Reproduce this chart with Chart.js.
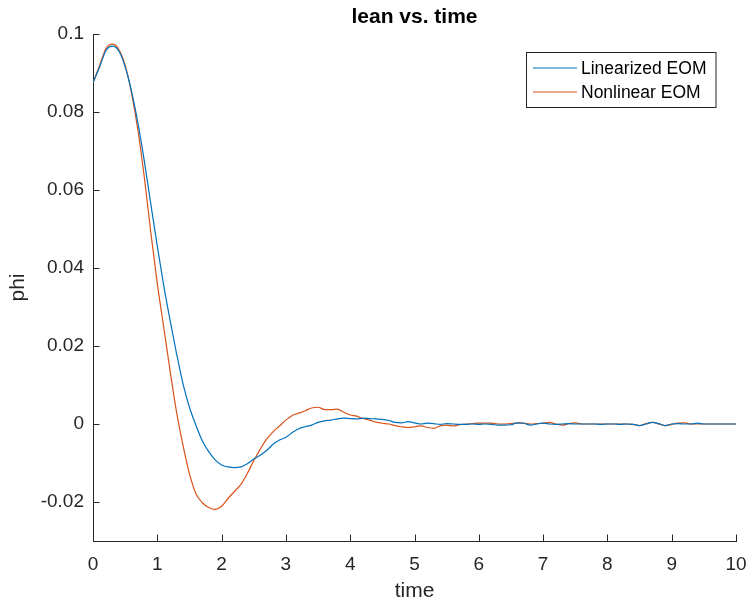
<!DOCTYPE html>
<html lang="en">
<head>
<meta charset="UTF-8">
<title>lean vs. time</title>
<script src="https://cdn.jsdelivr.net/npm/chart.js@4.4.0/dist/chart.umd.min.js"></script>
<style>
    body { margin: 0; background: #fff; }
    canvas#leanChart { display: block; }
</style>
</head>
<body>
<canvas id="leanChart" width="748" height="604"></canvas>
<script>
    const time = [
        0.0, 0.1, 0.2, 0.3, 0.4, 0.5, 0.6, 0.7, 0.8, 0.9,
        1.0, 1.1, 1.2, 1.3, 1.4, 1.5, 1.6, 1.7, 1.8, 1.9,
        2.0, 2.1, 2.2, 2.3, 2.4, 2.5, 2.6, 2.7, 2.8, 2.9,
        3.0, 3.1, 3.2, 3.3, 3.4, 3.5, 3.6, 3.7, 3.8, 3.9,
        4.0, 4.1, 4.2, 4.3, 4.4, 4.5, 4.6, 4.7, 4.8, 4.9,
        5.0, 5.1, 5.2, 5.3, 5.4, 5.5, 5.6, 5.7, 5.8, 5.9,
        6.0, 6.1, 6.2, 6.3, 6.4, 6.5, 6.6, 6.7, 6.8, 6.9,
        7.0, 7.1, 7.2, 7.3, 7.4, 7.5, 7.6, 7.7, 7.8, 7.9,
        8.0, 8.1, 8.2, 8.3, 8.4, 8.5, 8.6, 8.7, 8.8, 8.9,
        9.0, 9.1, 9.2, 9.3, 9.4, 9.5, 9.6, 9.7, 9.8, 9.9,
        10.0
    ];
    const linearPhi = [
        0.0875, 0.0914, 0.0957, 0.0969, 0.0957, 0.0916, 0.0852, 0.0770, 0.0672, 0.0563,
        0.0456, 0.0355, 0.0265, 0.0180, 0.0103, 0.0043, -0.0003, -0.0043, -0.0071, -0.0092,
        -0.0105, -0.0110, -0.0112, -0.0110, -0.0102, -0.0090, -0.0080, -0.0068, -0.0052, -0.0041,
        -0.0034, -0.0022, -0.0012, -0.0007, -0.0003, 0.0004, 0.0008, 0.0010, 0.0013, 0.0015,
        0.0014, 0.0013, 0.0015, 0.0014, 0.0013, 0.0012, 0.0009, 0.0004, 0.0003, 0.0006,
        0.0003, 0.0000, 0.0002, 0.0001, -0.0001, 0.0001, 0.0000, -0.0001, -0.0001, 0.0000,
        -0.0001, 0.0000, -0.0001, -0.0003, -0.0003, -0.0002, 0.0003, 0.0002, -0.0003, 0.0000,
        0.0002, 0.0000, -0.0001, 0.0000, 0.0001, 0.0000, 0.0000, 0.0000, 0.0000, -0.0001,
        0.0000, 0.0000, -0.0001, 0.0000, -0.0001, -0.0004, 0.0000, 0.0004, 0.0001, -0.0004,
        0.0000, 0.0001, 0.0000, 0.0000, 0.0002, 0.0000, 0.0000, 0.0000, 0.0000, 0.0000,
        0.0000
    ];
    const nonlinearPhi = [
        0.0875, 0.0918, 0.0962, 0.0974, 0.0961, 0.0920, 0.0848, 0.0752, 0.0630, 0.0490,
        0.0360, 0.0248, 0.0135, 0.0030, -0.0055, -0.0128, -0.0178, -0.0202, -0.0214, -0.0219,
        -0.0211, -0.0191, -0.0173, -0.0155, -0.0127, -0.0094, -0.0065, -0.0039, -0.0020, -0.0005,
        0.0010, 0.0022, 0.0028, 0.0034, 0.0041, 0.0043, 0.0037, 0.0037, 0.0038, 0.0030,
        0.0023, 0.0020, 0.0014, 0.0010, 0.0005, 0.0002, 0.0000, -0.0004, -0.0007, -0.0009,
        -0.0007, -0.0005, -0.0009, -0.0011, -0.0005, -0.0003, -0.0005, -0.0002, 0.0000, 0.0001,
        0.0002, 0.0002, 0.0002, 0.0000, 0.0000, 0.0001, 0.0003, 0.0002, 0.0000, 0.0001,
        0.0002, 0.0004, 0.0000, -0.0003, 0.0001, 0.0003, 0.0000, 0.0000, 0.0000, 0.0000,
        0.0000, 0.0000, 0.0000, 0.0000, -0.0001, -0.0004, 0.0001, 0.0004, 0.0000, -0.0004,
        -0.0001, 0.0002, 0.0003, 0.0000, 0.0000, 0.0000, 0.0000, 0.0000, 0.0000, 0.0000,
        0.0000
    ];
    const seriesNames = ['Linearized EOM', 'Nonlinear EOM'];
    const seriesColors = ['#0072BD', '#D95319'];
    const xTicks = [0, 1, 2, 3, 4, 5, 6, 7, 8, 9, 10];
    const yTicks = [-0.02, 0, 0.02, 0.04, 0.06, 0.08, 0.1];

    const FONT = '"Liberation Sans", Arial, Helvetica, sans-serif';
    const AXIS = '#262626';

    function toPoints(ys) {
        return time.map((t, i) => ({ x: t, y: ys[i] }));
    }

    // matlab style: ticks pointing inward + boxed legend in the top right
    const matlabLook = {
        id: 'matlabLook',
        afterDatasetsDraw(chart) {
            const ctx = chart.ctx;
            const area = chart.chartArea;
            const xs = chart.scales.x;
            const ys = chart.scales.y;
            ctx.save();
            ctx.strokeStyle = AXIS;
            ctx.lineWidth = 1;
            ctx.beginPath();
            xTicks.forEach(v => {
                const px = Math.round(xs.getPixelForValue(v)) + 0.5;
                ctx.moveTo(px, area.bottom);
                ctx.lineTo(px, area.bottom - 6.5);
            });
            yTicks.forEach(v => {
                const py = Math.round(ys.getPixelForValue(v)) + 0.5;
                ctx.moveTo(area.left, py);
                ctx.lineTo(area.left + 6.5, py);
            });
            ctx.stroke();

            // legend
            const bx = 526.5, by = 52.5, bw = 189.5, bh = 55;
            ctx.fillStyle = '#fff';
            ctx.fillRect(bx, by, bw, bh);
            ctx.strokeStyle = AXIS;
            ctx.strokeRect(bx, by, bw, bh);
            ctx.font = '17.5px ' + FONT;
            ctx.textBaseline = 'middle';
            ctx.textAlign = 'left';
            chart.data.datasets.forEach((ds, i) => {
                const ry = 68 + i * 24;
                ctx.strokeStyle = ds.borderColor;
                ctx.lineWidth = 1.2;
                ctx.beginPath();
                ctx.moveTo(533, ry);
                ctx.lineTo(577, ry);
                ctx.stroke();
                ctx.fillStyle = '#000';
                ctx.fillText(ds.label, 581, ry + 1);
            });
            ctx.restore();
        }
    };

    const ctx = document.getElementById('leanChart').getContext('2d');
    const leanChart = new Chart(ctx, {
        type: 'line',
        data: {
            datasets: [
                {
                    label: seriesNames[0],
                    data: toPoints(linearPhi),
                    borderColor: seriesColors[0],
                    borderWidth: 1.2,
                    pointRadius: 0,
                    cubicInterpolationMode: 'monotone',
                    fill: false
                },
                {
                    label: seriesNames[1],
                    data: toPoints(nonlinearPhi),
                    borderColor: seriesColors[1],
                    borderWidth: 1.2,
                    pointRadius: 0,
                    cubicInterpolationMode: 'monotone',
                    fill: false
                }
            ]
        },
        plugins: [matlabLook],
        options: {
            responsive: false,
            animation: false,
            layout: { padding: { left: 0, right: 12, top: 0, bottom: 0 } },
            plugins: {
                legend: { display: false },
                tooltip: { enabled: false },
                title: {
                    display: true,
                    text: 'lean vs. time',
                    fullSize: false,
                    color: '#000',
                    font: { family: FONT, size: 21, weight: 'bold' },
                    padding: { top: 5, bottom: 3.8 }
                }
            },
            scales: {
                x: {
                    type: 'linear',
                    min: 0,
                    max: 10,
                    afterBuildTicks: s => { s.ticks = xTicks.map(v => ({ value: v })); },
                    afterFit: s => { s.height = 63; s.paddingLeft = 0; s.paddingRight = 0; },
                    grid: { display: false, drawTicks: false },
                    border: { display: true, color: AXIS, width: 1 },
                    ticks: {
                        color: AXIS,
                        padding: 12,
                        maxRotation: 0,
                        font: { family: FONT, size: 19 },
                        callback: v => String(v)
                    },
                    title: {
                        display: true,
                        text: 'time',
                        color: AXIS,
                        font: { family: FONT, size: 21 },
                        padding: { top: 0, bottom: 0 }
                    }
                },
                y: {
                    type: 'linear',
                    min: -0.03,
                    max: 0.1,
                    afterBuildTicks: s => { s.ticks = yTicks.map(v => ({ value: v })); },
                    afterFit: s => { s.width = 93; s.paddingTop = 0; s.paddingBottom = 0; },
                    grid: { display: false, drawTicks: false },
                    border: { display: true, color: AXIS, width: 1 },
                    ticks: {
                        color: AXIS,
                        padding: 9,
                        font: { family: FONT, size: 19 },
                        callback: v => String(Number(v.toFixed(2)))
                    },
                    title: {
                        display: true,
                        text: 'phi',
                        color: AXIS,
                        font: { family: FONT, size: 21 },
                        padding: { top: 6, bottom: 0 }
                    }
                }
            }
        }
    });
</script>
</body>
</html>
